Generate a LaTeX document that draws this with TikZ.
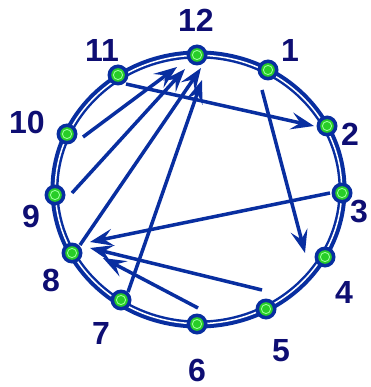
\documentclass[tikz,border=0pt]{standalone}
\usepackage{fontspec}
\setmainfont{Liberation Sans}
\usetikzlibrary{arrows.meta,calc}
\definecolor{ringblue}{RGB}{8,46,160}
\definecolor{lblblue}{RGB}{14,14,115}
\definecolor{dotgreen}{RGB}{40,205,40}
\definecolor{ringgreen}{RGB}{150,255,150}
\tikzset{
  ringline/.style={draw=ringblue, line width=8pt},
  ringgap/.style={draw=white, line width=1.5pt},
  nd/.style={circle, fill=ringblue, minimum size=21pt, inner sep=0pt},
  lbl/.style={text=lblblue, font=\fontsize{32}{32}\selectfont\bfseries, inner sep=0pt},
  arr/.style={draw=ringblue, line width=3.5pt, -{Stealth[length=23pt, width=17pt, inset=9pt]}},
}
\begin{document}
\begin{tikzpicture}[x=1pt,y=-1pt]
\useasboundingbox (0,0) rectangle (370,387);
\fill[white] (0,0) rectangle (370,387);
\coordinate (c) at (198.5,189.5);
\draw[ringline] (c) ellipse [x radius=144pt, y radius=135pt];
\draw[ringgap] (c) ellipse [x radius=143.2pt, y radius=134.2pt];
% nodes
\node[nd] (n12) at (197,55) {};
\node[nd] (n1) at (268,70) {};
\node[nd] (n2) at (327,126) {};
\node[nd] (n3) at (342,193) {};
\node[nd] (n4) at (325,257) {};
\node[nd] (n5) at (266,309) {};
\node[nd] (n6) at (197,324) {};
\node[nd] (n7) at (121,300) {};
\node[nd] (n8) at (72,253) {};
\node[nd] (n9) at (55,195) {};
\node[nd] (n10) at (67,134) {};
\node[nd] (n11) at (118,75) {};
\foreach \n in {n1,n2,n3,n4,n5,n6,n7,n8,n9,n10,n11,n12}{
  \fill[dotgreen] (\n) circle (6.8pt);
  \draw[ringgreen, line width=0.9pt] (\n) circle (4.6pt);
}
% labels
\node[lbl] (l12) at (196,20) {12};
\node[lbl] (l1) at (290,50) {1};
\node[lbl] (l2) at (350,134) {2};
\node[lbl] (l3) at (359,212) {3};
\node[lbl] (l4) at (344,292) {4};
\node[lbl] (l5) at (281,351) {5};
\node[lbl] (l6) at (197,370) {6};
\node[lbl] (l7) at (101,333) {7};
\node[lbl] (l8) at (51,280) {8};
\node[lbl] (l9) at (31,216) {9};
\node[lbl] (l10) at (27,122) {10};
\node[lbl] (l11) at (102,50) {11};
% arrows
\draw[arr] ($(n11)+(8,9)$) -- ($(n2)+(-13,0)$);
\draw[arr] ($(n1)+(-6,20)$) -- ($(n4)+(-20,-4)$);
\draw[arr] ($(n10)+(16,3)$) -- ($(n12)+(-20,12)$);
\draw[arr] ($(n9)+(17,-2)$) -- ($(n12)+(-12,14)$);
\draw[arr] ($(n8)+(8,-8)$) -- ($(n12)+(4,13)$);
\draw[arr] ($(n7)+(7,-8)$) -- ($(n12)+(5,25)$);
\draw[arr] ($(n3)+(-12,0)$) -- ($(n8)+(18,-11)$);
\draw[arr] ($(n5)+(-4,-19)$) -- ($(n8)+(18,-5)$);
\draw[arr] ($(n6)+(1,-16)$) -- ($(n8)+(31,5)$);
\end{tikzpicture}
\end{document}
